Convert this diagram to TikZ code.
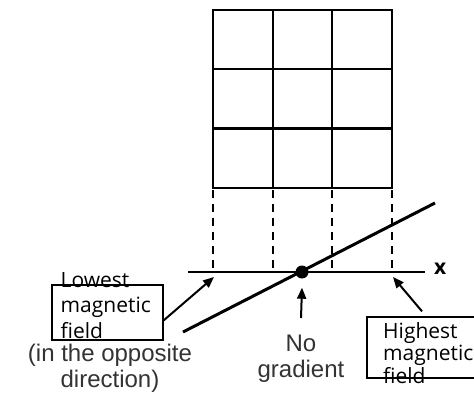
\documentclass[tikz,border=0pt]{standalone}
\usepackage{fontspec}
\newfontfamily\labelfont{Open Sans}
\newfontfamily\scanfont{Liberation Sans}
\usetikzlibrary{arrows.meta}

\begin{document}
\begin{tikzpicture}[x=1pt,y=-1pt,
        tip/.style={-{Triangle[length=11pt,width=9pt]},line width=2pt},
        labelbox/.style={draw,line width=1.3pt,inner sep=0pt},
        labeltext/.style={font=\labelfont\fontsize{21pt}{#1}\selectfont,align=left,inner sep=0pt,anchor=north west},
        labeltext/.default=24pt,
        scantext/.style={font=\scanfont\fontsize{24pt}{26pt}\selectfont,text=black!80,align=center,inner sep=0pt,anchor=north}]
        \clip (0,0) rectangle (474,393);
        \fill[white] (0,0) rectangle (474,393);
        \foreach \x in {213,272.7,332.3,392} {
            \draw[line width=2.2pt] (\x,10) -- (\x,188);
            \draw[line width=2pt,dash pattern=on 8pt off 6pt] (\x,190) -- (\x,271);
        }
        \foreach \y in {10,69.3,128.7,188}
            \draw[line width=2.4pt] (212,\y) -- (393,\y);
        \coordinate (axisleft) at (188,272);
        \coordinate (axisright) at (425,272);
        \draw[line width=2pt] (axisleft) -- (axisright) node[right,inner sep=8pt,yshift=3pt,font=\labelfont\bfseries\fontsize{21pt}{21pt}\selectfont] (xlabel) {x};
        \coordinate (slopelow) at (183,332);
        \coordinate (slopehigh) at (435,203);
        \draw[line width=3pt] (slopelow) -- (slopehigh);
        \node[circle,fill,minimum size=13pt,inner sep=0pt] (zero) at (302,272) {};
        \node[labelbox,minimum width=111pt,minimum height=55pt] (lowbox) at (107.5,312.5) {};
        \node[labeltext=25.5pt] (lowtext) at (60.5,272) {Lowest\\magnetic\\field};
        \node[labelbox,minimum width=130pt,minimum height=61pt] (highbox) at (432,347.5) {};
        \node[labeltext=22.5pt] (hightext) at (383,322) {Highest\\magnetic\\field};
        \node[scantext] (nograd) at (301,335) {No\\gradient};
        \node[scantext] (opposite) at (110,344) {(in the opposite\\direction)};
        \coordinate (lowend) at (214,277);
        \coordinate (highend) at (393,277);
        \draw[tip] (lowbox.-8) -- (lowend);
        \draw[tip] ([xshift=-10pt,yshift=5pt]highbox.north) -- (highend);
        \draw[tip] ([yshift=17pt]nograd.north) -- ([yshift=-9pt]zero.south);
\end{tikzpicture}
\end{document}
